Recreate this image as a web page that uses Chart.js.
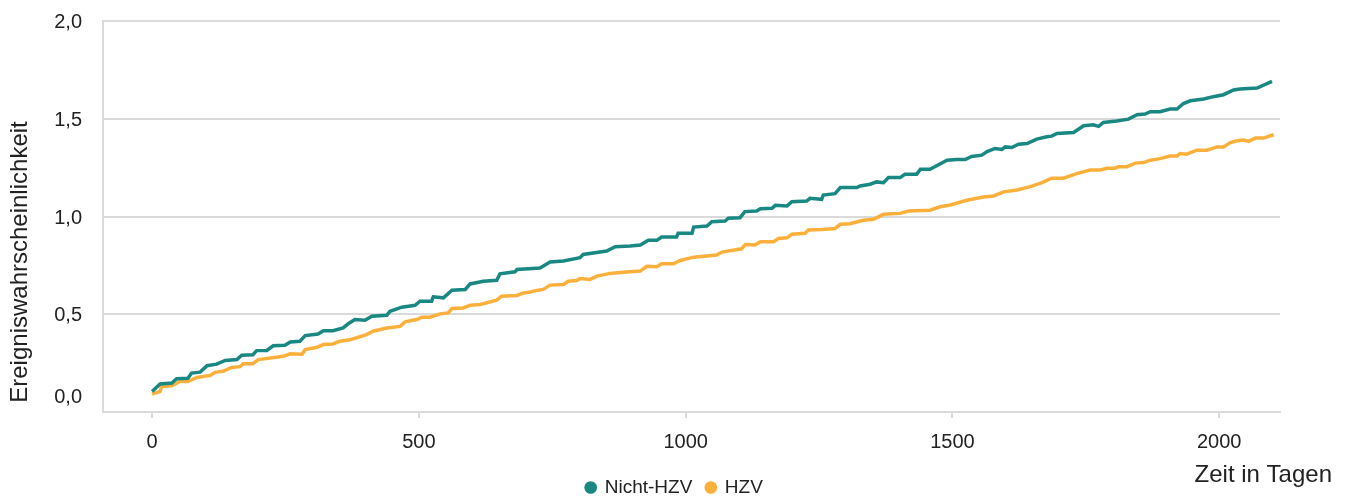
<!DOCTYPE html>
<html lang="de">
<head>
<meta charset="utf-8">
<title>Ereigniswahrscheinlichkeit</title>
<script src="https://cdn.jsdelivr.net/npm/chart.js@4.4.1/dist/chart.umd.min.js"></script>
<style>
  html, body { margin: 0; padding: 0; background: #fff; overflow: hidden; }
  #wrap { position: relative; width: 1349px; height: 496px; }
</style>
</head>
<body>
<div id="wrap"><canvas id="chart"></canvas></div>
<script>
// ---- data ----
const seriesNames = ['Nicht-HZV', 'HZV'];

const nichtHzvDays = [0, 15, 37, 46, 67, 74, 90, 103, 121, 137, 159, 168, 189, 196, 215, 227, 249, 259, 277, 287,
  311, 321, 339, 358, 367, 380, 399, 412, 440, 446, 468, 493, 502, 524, 527, 546, 562, 587, 596, 621,
  646, 652, 680, 684, 727, 746, 771, 802, 808, 852, 868, 896, 915, 930, 946, 955, 983, 986, 1012, 1015,
  1040, 1049, 1074, 1080, 1102, 1111, 1133, 1140, 1162, 1168, 1190, 1199, 1227, 1233, 1255, 1258, 1280, 1290, 1321, 1327,
  1346, 1358, 1371, 1380, 1402, 1411, 1433, 1440, 1458, 1490, 1508, 1524, 1536, 1555, 1565, 1580, 1593, 1599, 1611, 1624,
  1640, 1658, 1677, 1686, 1696, 1727, 1746, 1764, 1774, 1783, 1808, 1830, 1846, 1861, 1871, 1889, 1908, 1921, 1933, 1946,
  1971, 1989, 2008, 2027, 2039, 2071, 2099];
const nichtHzvValues = [0.105, 0.143, 0.148, 0.170, 0.173, 0.199, 0.204, 0.237, 0.245, 0.264, 0.268, 0.290, 0.293, 0.314, 0.315, 0.339, 0.341, 0.358, 0.362, 0.391,
  0.399, 0.416, 0.416, 0.430, 0.450, 0.473, 0.469, 0.490, 0.495, 0.515, 0.536, 0.546, 0.567, 0.567, 0.589, 0.584, 0.623, 0.627, 0.655, 0.669,
  0.674, 0.707, 0.717, 0.729, 0.737, 0.767, 0.772, 0.789, 0.806, 0.823, 0.845, 0.849, 0.854, 0.879, 0.878, 0.895, 0.895, 0.914, 0.914, 0.946,
  0.951, 0.973, 0.977, 0.991, 0.994, 1.025, 1.028, 1.040, 1.042, 1.057, 1.054, 1.076, 1.079, 1.093, 1.088, 1.110, 1.117, 1.148, 1.148, 1.156,
  1.165, 1.177, 1.173, 1.199, 1.199, 1.216, 1.216, 1.242, 1.242, 1.288, 1.291, 1.291, 1.307, 1.314, 1.332, 1.348, 1.343, 1.356, 1.353, 1.370,
  1.373, 1.396, 1.408, 1.411, 1.425, 1.430, 1.464, 1.469, 1.461, 1.481, 1.488, 1.498, 1.521, 1.524, 1.536, 1.536, 1.550, 1.550, 1.578, 1.592,
  1.601, 1.613, 1.623, 1.647, 1.652, 1.657, 1.691];

const hzvDays = [0, 15, 18, 37, 52, 67, 84, 109, 118, 133, 149, 165, 171, 189, 199, 246, 259, 281, 287, 309,
  321, 339, 352, 371, 402, 414, 440, 465, 474, 496, 506, 521, 540, 555, 562, 583, 596, 615, 646, 655,
  684, 696, 709, 721, 733, 746, 771, 780, 796, 802, 821, 834, 858, 883, 915, 927, 946, 955, 977, 990,
  1015, 1058, 1068, 1105, 1112, 1130, 1140, 1165, 1174, 1190, 1199, 1224, 1230, 1255, 1280, 1290, 1308, 1333, 1352, 1371,
  1402, 1418, 1458, 1477, 1496, 1527, 1558, 1577, 1596, 1621, 1646, 1668, 1686, 1708, 1733, 1758, 1777, 1790, 1805, 1811,
  1827, 1843, 1858, 1871, 1889, 1908, 1921, 1927, 1939, 1958, 1977, 1996, 2008, 2021, 2033, 2046, 2055, 2068, 2083, 2102];
const hzvValues = [0.091, 0.105, 0.131, 0.134, 0.156, 0.156, 0.177, 0.187, 0.203, 0.208, 0.228, 0.232, 0.247, 0.247, 0.268, 0.285, 0.298, 0.296, 0.319, 0.331,
  0.345, 0.348, 0.362, 0.370, 0.396, 0.413, 0.430, 0.438, 0.461, 0.473, 0.485, 0.485, 0.502, 0.507, 0.529, 0.532, 0.546, 0.550, 0.572, 0.592,
  0.596, 0.609, 0.614, 0.622, 0.627, 0.649, 0.652, 0.669, 0.673, 0.683, 0.678, 0.695, 0.709, 0.715, 0.721, 0.745, 0.743, 0.758, 0.758, 0.775,
  0.792, 0.803, 0.818, 0.835, 0.857, 0.854, 0.871, 0.871, 0.888, 0.891, 0.909, 0.914, 0.931, 0.934, 0.939, 0.960, 0.963, 0.981, 0.986, 1.011,
  1.016, 1.028, 1.032, 1.050, 1.059, 1.083, 1.100, 1.105, 1.126, 1.136, 1.153, 1.173, 1.196, 1.196, 1.219, 1.238, 1.238, 1.247, 1.247, 1.254,
  1.255, 1.273, 1.276, 1.288, 1.296, 1.309, 1.310, 1.322, 1.319, 1.339, 1.339, 1.356, 1.356, 1.378, 1.387, 1.391, 1.384, 1.401, 1.401, 1.418];

const xTicks = [0, 500, 1000, 1500, 2000];
const yTicks = [0, 0.5, 1.0, 1.5, 2.0];
const xTitle = 'Zeit in Tagen';
const yTitle = 'Ereigniswahrscheinlichkeit';

// ---- look ----
const colors = {
  teal: '#1a8882',
  orange: '#fbb03b',
  grid: '#dadada',
  text: '#222222'
};
const FONT = "'Liberation Sans', Arial, sans-serif";

const toPoints = (days, vals) => days.map((d, i) => ({ x: d, y: vals[i] }));
const fmtDe = v => v.toFixed(1).replace('.', ',');

// y tick labels and both axis titles sit where the original put them
const axisText = {
  id: 'axisText',
  afterDraw(chart) {
    const { ctx, scales: { y } } = chart;
    ctx.save();
    ctx.fillStyle = colors.text;
    ctx.font = '20px ' + FONT;
    ctx.textAlign = 'right';
    ctx.textBaseline = 'middle';
    yTicks.forEach(v => {
      const py = y.getPixelForValue(v) + (v === 0 ? -15 : 1.5);
      ctx.fillText(fmtDe(v), 82, py);
    });

    ctx.font = '24px ' + FONT;
    ctx.textAlign = 'right';
    ctx.textBaseline = 'alphabetic';
    ctx.fillText(xTitle, 1332, 482);

    ctx.translate(27, 262);
    ctx.rotate(-Math.PI / 2);
    ctx.textAlign = 'center';
    ctx.fillText(yTitle, 0, 0);
    ctx.restore();
  }
};

new Chart(document.getElementById('chart'), {
  type: 'line',
  data: {
    datasets: [
      {
        label: seriesNames[0],
        data: toPoints(nichtHzvDays, nichtHzvValues),
        borderColor: colors.teal,
        backgroundColor: colors.teal,
        borderWidth: 3.5,
        pointRadius: 0,
        pointStyle: 'circle',
        tension: 0
      },
      {
        label: seriesNames[1],
        data: toPoints(hzvDays, hzvValues),
        borderColor: colors.orange,
        backgroundColor: colors.orange,
        borderWidth: 3.5,
        pointRadius: 0,
        pointStyle: 'circle',
        tension: 0
      }
    ]
  },
  options: {
    responsive: true,
    maintainAspectRatio: false,
    animation: false,
    layout: { padding: { top: 21, right: 0, bottom: -11, left: 0 } },
    plugins: {
      tooltip: { enabled: false },
      legend: {
        position: 'bottom',
        labels: {
          usePointStyle: true,
          boxWidth: 9,
          boxHeight: 9,
          padding: 14,
          color: colors.text,
          font: { family: FONT, size: 19 },
          generateLabels(chart) {
            const items = Chart.defaults.plugins.legend.labels.generateLabels(chart);
            items.forEach(it => { it.lineWidth = 0; });
            return items;
          }
        }
      }
    },
    scales: {
      x: {
        type: 'linear',
        min: -92,
        max: 2114,
        afterBuildTicks: s => { s.ticks = xTicks.map(v => ({ value: v })); },
        afterFit: s => { s.height = 52; },
        border: { display: true, color: colors.grid, width: 2 },
        grid: { drawOnChartArea: false, drawTicks: true, tickLength: 6, color: colors.grid, lineWidth: 2 },
        ticks: {
          padding: 12,
          maxRotation: 0,
          color: colors.text,
          font: { family: FONT, size: 20 },
          callback: v => String(v)
        }
      },
      y: {
        min: 0,
        max: 2,
        afterBuildTicks: s => { s.ticks = yTicks.map(v => ({ value: v })); },
        afterFit: s => { s.width = 103; },
        border: { display: true, color: colors.grid, width: 2 },
        grid: { drawTicks: false, color: colors.grid, lineWidth: 2 },
        ticks: { display: false }
      },
      // empty spacer on the right so the legend stays centred on the page
      spacer: {
        position: 'right',
        afterFit: s => { s.width = 69; },
        border: { display: false },
        grid: { display: false },
        ticks: { display: false }
      }
    }
  },
  plugins: [axisText]
});
</script>
</body>
</html>
